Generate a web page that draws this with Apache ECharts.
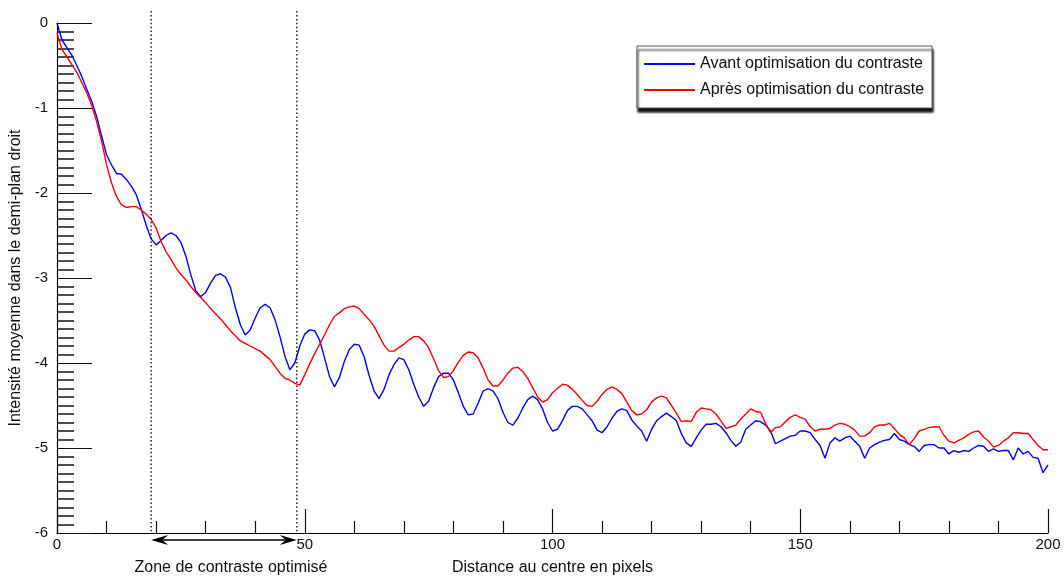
<!DOCTYPE html>
<html>
<head>
<meta charset="utf-8">
<script src="https://cdn.jsdelivr.net/npm/echarts@6/dist/echarts.min.js"></script>
<style>
  html, body { margin: 0; padding: 0; background: #fff; }
  #chart { width: 1064px; height: 576px; }
</style>
</head>
<body>
<div id="chart"></div>
<script>
// distance au centre: one sample per pixel, 0..200
const avant = [
  0, -0.20, -0.29, -0.38, -0.50, -0.63, -0.78, -0.92, -1.10, -1.33,
  -1.55, -1.67, -1.77, -1.78, -1.84, -1.92, -2.02, -2.19, -2.38, -2.54,
  -2.61, -2.56, -2.50, -2.47, -2.50, -2.58, -2.74, -2.96, -3.15, -3.22,
  -3.17, -3.06, -2.97, -2.95, -2.99, -3.11, -3.35, -3.55, -3.67, -3.61,
  -3.47, -3.35, -3.31, -3.35, -3.49, -3.69, -3.92, -4.08, -4.00, -3.80,
  -3.66, -3.61, -3.62, -3.73, -3.94, -4.16, -4.28, -4.17, -3.98, -3.84,
  -3.78, -3.79, -3.93, -4.15, -4.33, -4.42, -4.31, -4.14, -4.02, -3.94,
  -3.96, -4.08, -4.25, -4.40, -4.51, -4.45, -4.29, -4.16, -4.12, -4.12,
  -4.20, -4.35, -4.51, -4.61, -4.60, -4.47, -4.33, -4.30, -4.33, -4.42,
  -4.58, -4.70, -4.73, -4.65, -4.53, -4.43, -4.39, -4.43, -4.54, -4.70,
  -4.80, -4.78, -4.68, -4.56, -4.51, -4.51, -4.54, -4.61, -4.68, -4.79,
  -4.82, -4.75, -4.65, -4.57, -4.54, -4.56, -4.67, -4.74, -4.80, -4.92,
  -4.78, -4.68, -4.63, -4.59, -4.63, -4.68, -4.83, -4.94, -4.98, -4.88,
  -4.79, -4.72, -4.72, -4.71, -4.75, -4.82, -4.91, -4.98, -4.93, -4.78,
  -4.73, -4.68, -4.69, -4.73, -4.80, -4.95, -4.92, -4.89, -4.86, -4.85,
  -4.80, -4.80, -4.82, -4.90, -4.97, -5.12, -4.94, -4.88, -4.92, -4.88,
  -4.86, -4.92, -4.98, -5.12, -5.00, -4.96, -4.93, -4.91, -4.90, -4.83,
  -4.90, -4.92, -4.96, -4.98, -5.04, -4.97, -4.96, -4.96, -5.00, -5.00,
  -5.07, -5.03, -5.05, -5.03, -5.04, -5.00, -4.97, -4.98, -5.04, -5.01,
  -5.04, -5.03, -5.03, -5.14, -5.00, -5.07, -5.04, -5.11, -5.12, -5.29,
  -5.20
]

const apres = [
  -0.12, -0.31, -0.40, -0.49, -0.58, -0.70, -0.82, -0.97, -1.16, -1.39,
  -1.67, -1.88, -2.04, -2.14, -2.17, -2.16, -2.16, -2.20, -2.25, -2.31,
  -2.41, -2.57, -2.69, -2.78, -2.88, -2.96, -3.02, -3.10, -3.17, -3.23,
  -3.29, -3.36, -3.42, -3.48, -3.55, -3.62, -3.68, -3.74, -3.77, -3.80,
  -3.83, -3.86, -3.91, -3.96, -4.04, -4.12, -4.18, -4.20, -4.24, -4.26,
  -4.14, -4.01, -3.89, -3.78, -3.67, -3.55, -3.45, -3.41, -3.36, -3.34,
  -3.33, -3.36, -3.43, -3.49, -3.57, -3.68, -3.79, -3.86, -3.86, -3.82,
  -3.78, -3.73, -3.69, -3.69, -3.74, -3.82, -3.95, -4.09, -4.17, -4.16,
  -4.09, -3.99, -3.91, -3.87, -3.88, -3.94, -4.06, -4.20, -4.27, -4.27,
  -4.20, -4.12, -4.06, -4.05, -4.10, -4.18, -4.29, -4.40, -4.46, -4.43,
  -4.35, -4.30, -4.25, -4.26, -4.31, -4.37, -4.44, -4.50, -4.51, -4.45,
  -4.37, -4.31, -4.28, -4.31, -4.36, -4.46, -4.56, -4.61, -4.60, -4.55,
  -4.46, -4.41, -4.39, -4.41, -4.50, -4.59, -4.69, -4.68, -4.69, -4.58,
  -4.53, -4.54, -4.55, -4.60, -4.68, -4.77, -4.75, -4.73, -4.66, -4.60,
  -4.54, -4.57, -4.58, -4.71, -4.82, -4.76, -4.75, -4.69, -4.64, -4.61,
  -4.64, -4.66, -4.75, -4.80, -4.78, -4.78, -4.77, -4.73, -4.71, -4.72,
  -4.75, -4.79, -4.86, -4.86, -4.82, -4.75, -4.73, -4.73, -4.71, -4.77,
  -4.84, -4.88, -4.96, -4.89, -4.80, -4.78, -4.76, -4.75, -4.75, -4.85,
  -4.92, -4.94, -4.91, -4.88, -4.84, -4.81, -4.80, -4.87, -4.92, -4.99,
  -4.97, -4.92, -4.88, -4.82, -4.82, -4.83, -4.83, -4.90, -4.97, -5.02,
  -5.02
]

// limits of the optimised zone (pixels)
const zoneBounds = [19, 48.4]
const xTicks = [0, 50, 100, 150, 200]
const yTicks = [0, -1, -2, -3, -4, -5, -6]

const labels = {
  avant: 'Avant optimisation du contraste',
  apres: 'Après optimisation du contraste',
  zone: 'Zone de contraste optimisé',
  xName: 'Distance au centre en pixels',
  yName: 'Intensité moyenne dans le demi-plan droit'
}

const font = '"Liberation Sans", Arial, Helvetica, sans-serif'
const chart = echarts.init(document.getElementById('chart'))

const toPairs = (arr) => arr.map((v, i) => [i, v])

const zoneSeries = zoneBounds.map((x, i) => ({
  name: 'zone' + i,
  type: 'line',
  data: [[x, 0.14], [x, -6]],
  symbol: 'none',
  clip: false,
  silent: true,
  lineStyle: { color: '#222', width: 1.5, type: [1.5, 2.4] }
}))

const option = {
  animation: false,
  backgroundColor: '#fff',
  textStyle: { fontFamily: font },
  grid: { left: 57, right: 16, top: 23, bottom: 43, outerBoundsMode: 'none', containLabel: false },
  legend: {
    data: [labels.avant, labels.apres],
    orient: 'vertical',
    left: 637,
    top: 46,
    padding: [10, 8, 10, 6],
    itemWidth: 51,
    itemHeight: 14,
    itemGap: 10,
    itemStyle: { opacity: 0 },
    backgroundColor: '#fff',
    borderColor: '#555',
    borderWidth: 1,
    borderRadius: 0,
    shadowColor: 'rgba(0,0,0,0.95)',
    shadowBlur: 2,
    shadowOffsetX: 1,
    shadowOffsetY: 4,
    textStyle: { fontSize: 16, color: '#111', fontFamily: font }
  },
  xAxis: {
    type: 'value',
    min: 0,
    max: 200,
    interval: 50,
    name: labels.xName,
    nameLocation: 'middle',
    nameGap: 27,
    nameTextStyle: { fontSize: 16, color: '#111' },
    axisLine: { show: true, onZero: false, lineStyle: { color: '#000', width: 1.2 } },
    axisTick: { show: true, inside: true, length: 24, lineStyle: { color: '#111', width: 1.2 } },
    minorTick: { show: true, splitNumber: 5, length: 12, lineStyle: { color: '#111', width: 1.2 } },
    axisLabel: {
      margin: 4, fontSize: 15, color: '#111',
      formatter: (v) => xTicks.includes(v) ? String(v) : ''
    },
    splitLine: { show: false }
  },
  yAxis: {
    type: 'value',
    min: -6,
    max: 0,
    interval: 1,
    name: labels.yName,
    nameLocation: 'middle',
    nameGap: 24,
    nameTextStyle: { fontSize: 16, color: '#111', padding: [12, 0, 0, 0] },
    axisLine: { show: true, onZero: false, lineStyle: { color: '#000', width: 1.2 } },
    axisTick: { show: true, inside: true, length: 35, lineStyle: { color: '#111', width: 1.2 } },
    minorTick: { show: true, splitNumber: 10, length: 17, lineStyle: { color: '#222', width: 1.6 } },
    axisLabel: {
      margin: 9, fontSize: 15, color: '#111',
      formatter: (v) => yTicks.includes(v) ? String(v) : ''
    },
    splitLine: { show: false }
  },
  series: [
    {
      name: labels.avant,
      type: 'line',
      data: toPairs(avant),
      symbol: 'none',
      lineStyle: { color: '#0000ff', width: 1.4 },
      itemStyle: { color: '#0000ff' }
    },
    {
      name: labels.apres,
      type: 'line',
      data: toPairs(apres),
      symbol: 'none',
      lineStyle: { color: '#ff0000', width: 1.4 },
      itemStyle: { color: '#ff0000' }
    },
    ...zoneSeries
  ]
}

chart.setOption(option)

// double arrow under the axis marking the optimised zone
const p0 = chart.convertToPixel({ gridIndex: 0 }, [zoneBounds[0], -6])
const p1 = chart.convertToPixel({ gridIndex: 0 }, [zoneBounds[1], -6])
const ay = p0[1] + 7
const head = (tip, dir) => ({
  type: 'polygon',
  shape: {
    points: [
      [tip, ay],
      [tip + dir * 17, ay - 5],
      [tip + dir * 11, ay],
      [tip + dir * 17, ay + 5]
    ]
  },
  style: { fill: '#000' }
})

chart.setOption({
  graphic: [
    {
      type: 'line',
      shape: { x1: p0[0] + 8, y1: ay, x2: p1[0] - 8, y2: ay },
      style: { stroke: '#000', lineWidth: 1.5 }
    },
    head(p0[0], 1),
    head(p1[0], -1),
    {
      type: 'text',
      x: (p0[0] + p1[0]) / 2 + 7,
      y: ay + 28,
      style: {
        text: labels.zone,
        fontSize: 16,
        fontFamily: font,
        fill: '#111',
        align: 'center',
        verticalAlign: 'middle'
      }
    }
  ]
})

window.addEventListener('resize', () => chart.resize())
</script>
</body>
</html>
